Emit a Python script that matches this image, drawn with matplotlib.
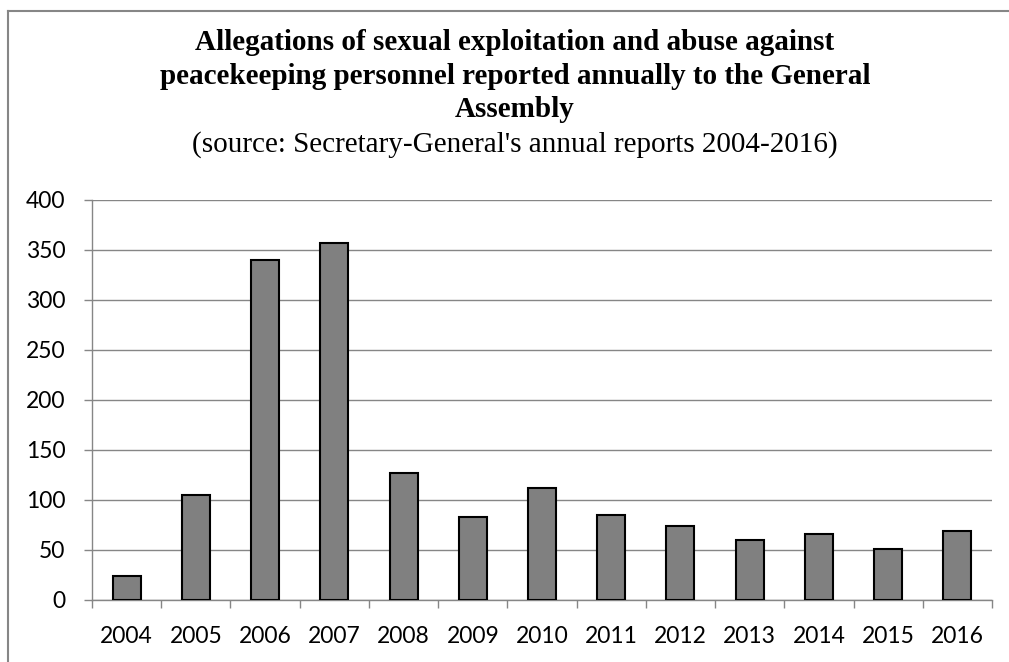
import matplotlib
matplotlib.use("Agg")
import matplotlib.pyplot as plt
from matplotlib.lines import Line2D

years = ["2004", "2005", "2006", "2007", "2008", "2009", "2010",
         "2011", "2012", "2013", "2014", "2015", "2016"]
allegations = [24, 105, 340, 357, 127, 83, 112, 85, 74, 60, 66, 51, 69]
y_ticks = [0, 50, 100, 150, 200, 250, 300, 350, 400]

title_lines = ["Allegations of sexual exploitation and abuse against",
               "peacekeeping personnel reported annually to the General",
               "Assembly"]
subtitle = "(source: Secretary-General's annual reports 2004-2016)"

W, H = 1009, 662
fig = plt.figure(figsize=(W / 100, H / 100), dpi=100)
ax = fig.add_axes([92 / W, 62 / H, 900 / W, 400 / H])

grid_c = "#868686"
x = list(range(len(years)))
ax.bar(x, allegations, width=0.405, color="#808080", edgecolor="black",
       linewidth=1.5, zorder=3)

ax.set_xlim(-0.5, len(years) - 0.5)
ax.set_ylim(0, 400)
ax.set_yticks(y_ticks)
ax.set_yticklabels([str(v) for v in y_ticks])
ax.yaxis.grid(True, color=grid_c, linewidth=1.0, zorder=0)
ax.set_axisbelow(True)

# category boundary ticks
ax.set_xticks([i - 0.5 for i in range(len(years) + 1)])
ax.set_xticklabels([""] * (len(years) + 1))
ax.set_xticks(x, minor=True)
ax.set_xticklabels(years, minor=True)
ax.tick_params(axis="x", which="major", direction="out", length=6,
               width=1.0, color=grid_c)
ax.tick_params(axis="x", which="minor", length=0, pad=19,
               labelsize=16.5, labelcolor="black")
ax.tick_params(axis="y", direction="out", length=6, width=1.0,
               color=grid_c, labelsize=16.5, pad=13)
for lbl in ax.get_xticklabels(minor=True) + ax.get_yticklabels():
    lbl.set_fontfamily("Lato")

for s in ["top", "right"]:
    ax.spines[s].set_visible(False)
ax.spines["left"].set_color(grid_c)
ax.spines["bottom"].set_color(grid_c)
ax.spines["left"].set_linewidth(1.0)
ax.spines["bottom"].set_linewidth(1.0)

cx = 515 / W
for i, line in enumerate(title_lines):
    fig.text(cx, 1 - (50 + 33.5 * i) / H, line, ha="center", va="baseline",
             fontfamily="Liberation Serif", fontweight="bold", fontsize=21)
fig.text(cx, 1 - 152 / H, subtitle, ha="center", va="baseline",
         fontfamily="Liberation Serif", fontsize=21)

# outer chart border (left and top visible)
fig.add_artist(Line2D([8 / W, 8 / W], [0, 1 - 11 / H], transform=fig.transFigure,
                      color=grid_c, linewidth=1.5))
fig.add_artist(Line2D([8 / W, 1008 / W], [1 - 11 / H, 1 - 11 / H],
                      transform=fig.transFigure, color=grid_c, linewidth=1.5))

fig.savefig("out.png", dpi=100)
